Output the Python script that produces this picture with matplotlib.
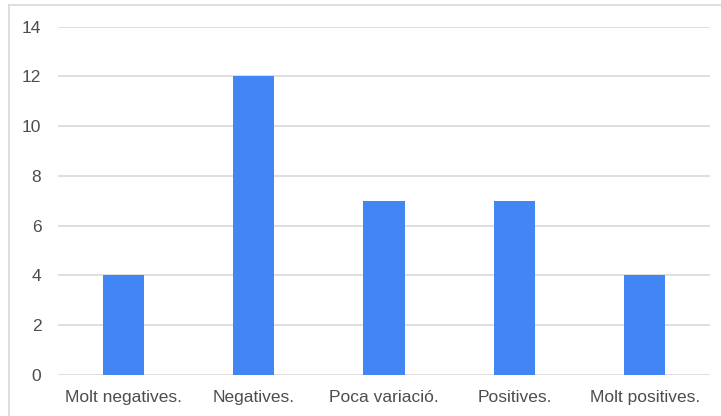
import matplotlib.pyplot as plt
from matplotlib.lines import Line2D

categories = ['Molt negatives.', 'Negatives.', 'Poca variació.', 'Positives.', 'Molt positives.']
values = [4, 12, 7, 7, 4]
y_ticks = [0, 2, 4, 6, 8, 10, 12, 14]

W, H = 721, 416
fig = plt.figure(figsize=(W / 100, H / 100), dpi=100)
plt.rcParams['font.family'] = ['Liberation Sans', 'DejaVu Sans']

# frame of the original chart (only top and left edges are visible in the crop)
fig.add_artist(Line2D([9 / W, 9 / W], [0, 1 - 4.5 / H], color='#d9d9d9', lw=1.2))
fig.add_artist(Line2D([9 / W, 1], [1 - 4.5 / H, 1 - 4.5 / H], color='#d9d9d9', lw=1.2))

left, right = 58 / W, 710 / W
bottom, top = 1 - 375 / H, 1 - 26.7 / H
ax = fig.add_axes([left, bottom, right - left, top - bottom])

x = range(len(categories))
ax.bar(x, values, width=0.315, color='#4285f4', zorder=3)

ax.set_xlim(-0.5, len(categories) - 0.5)
ax.set_ylim(0, 14)
ax.set_yticks(y_ticks)
ax.set_xticks(list(x))
ax.set_xticklabels(categories)
ax.grid(axis='y', color='#d9d9d9', lw=1.2, zorder=0)
ax.set_axisbelow(True)
for s in ax.spines.values():
    s.set_visible(False)
ax.tick_params(axis='both', length=0, labelsize=12.5, colors='#4d4d4d')
ax.tick_params(axis='y', pad=12)
ax.tick_params(axis='x', pad=10.5)

fig.savefig('out.png', dpi=100)
